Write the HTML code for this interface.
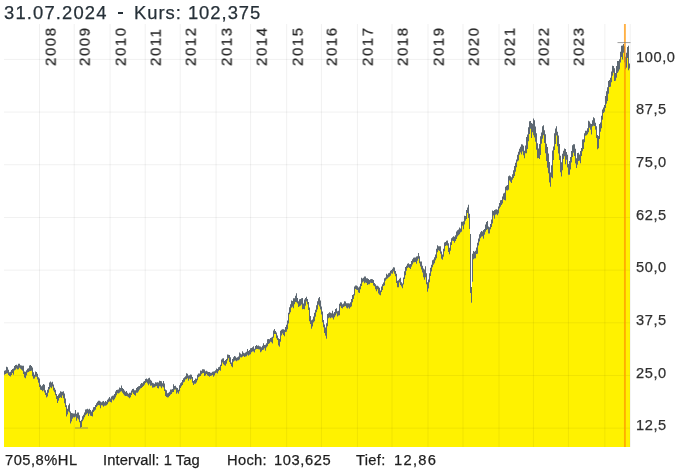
<!DOCTYPE html>
<html><head><meta charset="utf-8"><style>
html,body{margin:0;padding:0;background:#fff;}
body{width:681px;height:470px;position:relative;overflow:hidden;font-family:"Liberation Sans",sans-serif;color:#333;}
.t,.yl,.xl,.f{will-change:transform;-webkit-text-stroke:0.25px currentColor;}
.t{position:absolute;top:1px;font-size:18.4px;white-space:pre;color:#263038;line-height:24px;}
svg{position:absolute;left:0;top:0;}
.yl{position:absolute;left:635.6px;font-size:14.6px;color:#303030;letter-spacing:0.6px;line-height:20px;}
.xl{position:absolute;top:24px;width:42px;height:16px;font-size:15px;color:#262626;line-height:16px;transform-origin:0 0;transform:translate(2.6px,42px) rotate(-90deg);letter-spacing:1.55px;}
.f{position:absolute;top:450.2px;font-size:14.7px;color:#1e1e1e;white-space:pre;line-height:20px;}
</style></head><body>
<svg width="681" height="470" viewBox="0 0 681 470">
<path d="M4 447L4 374.56L5 374.56L5 373.86L6 373.86L6 373.15L7 373.15L7 373.11L8 373.11L8 374.80L9 374.80L9 375.87L10 375.87L10 376.29L11 376.29L11 374.86L12 374.86L12 372.64L13 372.64L13 374.58L14 374.58L14 370.16L15 370.16L15 369.57L16 369.57L16 368.26L17 368.26L17 369.32L18 369.32L18 368.94L19 368.94L19 367.58L20 367.58L20 368.41L21 368.41L21 369.61L22 369.61L22 370.40L23 370.40L23 373.63L24 373.63L24 377.21L25 377.21L25 377.93L26 377.93L26 375.19L27 375.19L27 372.28L28 372.28L28 371.87L29 371.87L29 371.05L30 371.05L30 370.87L31 370.87L31 370.52L32 370.52L32 375.89L33 375.89L33 378.54L34 378.54L34 378.12L35 378.12L35 376.50L36 376.50L36 376.53L37 376.53L37 379.29L38 379.29L38 382.38L39 382.38L39 386.70L40 386.70L40 389.60L41 389.60L41 389.71L42 389.71L42 391.12L43 391.12L43 390.32L44 390.32L44 392.16L45 392.16L45 394.86L46 394.86L46 397.28L47 397.28L47 396.13L48 396.13L48 392.60L49 392.60L49 389.05L50 389.05L50 386.90L51 386.90L51 387.96L52 387.96L52 386.23L53 386.23L53 390.29L54 390.29L54 392.05L55 392.05L55 394.96L56 394.96L56 398.80L57 398.80L57 402.76L58 402.76L58 400.44L59 400.44L59 397.68L60 397.68L60 396.92L61 396.92L61 397.87L62 397.87L62 395.33L63 395.33L63 397.95L64 397.95L64 403.06L65 403.06L65 406.87L66 406.87L66 416.34L67 416.34L67 414.20L68 414.20L68 411.20L69 411.20L69 412.23L70 412.23L70 423.36L71 423.36L71 421.20L72 421.20L72 418.51L73 418.51L73 416.95L74 416.95L74 417.23L75 417.23L75 416.56L76 416.56L76 420.50L77 420.50L77 417.90L78 417.90L78 419.36L79 419.36L79 422.11L80 422.11L80 427.58L81 427.58L81 426.76L82 426.76L82 421.11L83 421.11L83 419.36L84 419.36L84 416.92L85 416.92L85 415.11L86 415.11L86 414.06L87 414.06L87 412.93L88 412.93L88 415.64L89 415.64L89 413.44L90 413.44L90 415.40L91 415.40L91 415.75L92 415.75L92 416.26L93 416.26L93 411.80L94 411.80L94 410.52L95 410.52L95 409.48L96 409.48L96 406.70L97 406.70L97 405.57L98 405.57L98 404.71L99 404.71L99 405.01L100 405.01L100 407.94L101 407.94L101 404.93L102 404.93L102 405.17L103 405.17L103 406.58L104 406.58L104 405.43L105 405.43L105 405.57L106 405.57L106 405.00L107 405.00L107 404.07L108 404.07L108 402.04L109 402.04L109 401.17L110 401.17L110 401.82L111 401.82L111 402.16L112 402.16L112 399.28L113 399.28L113 400.35L114 400.35L114 398.87L115 398.87L115 397.23L116 397.23L116 395.06L117 395.06L117 393.06L118 393.06L118 393.20L119 393.20L119 392.43L120 392.43L120 391.38L121 391.38L121 390.95L122 390.95L122 392.43L123 392.43L123 394.12L124 394.12L124 395.20L125 395.20L125 395.86L126 395.86L126 395.67L127 395.67L127 396.15L128 396.15L128 397.02L129 397.02L129 398.09L130 398.09L130 396.98L131 396.98L131 394.65L132 394.65L132 392.22L133 392.22L133 393.66L134 393.66L134 394.76L135 394.76L135 395.44L136 395.44L136 392.40L137 392.40L137 392.49L138 392.49L138 391.28L139 391.28L139 389.42L140 389.42L140 388.26L141 388.26L141 387.81L142 387.81L142 386.69L143 386.69L143 385.87L144 385.87L144 384.44L145 384.44L145 382.82L146 382.82L146 381.89L147 381.89L147 383.28L148 383.28L148 384.95L149 384.95L149 383.38L150 383.38L150 385.48L151 385.48L151 385.35L152 385.35L152 387.48L153 387.48L153 387.34L154 387.34L154 386.97L155 386.97L155 386.29L156 386.29L156 385.81L157 385.81L157 387.66L158 387.66L158 388.13L159 388.13L159 385.88L160 385.88L160 386.27L161 386.27L161 388.01L162 388.01L162 386.34L163 386.34L163 387.22L164 387.22L164 390.82L165 390.82L165 395.68L166 395.68L166 396.78L167 396.78L167 397.26L168 397.26L168 396.89L169 396.89L169 395.66L170 395.66L170 394.60L171 394.60L171 393.76L172 393.76L172 392.11L173 392.11L173 391.81L174 391.81L174 389.58L175 389.58L175 389.27L176 389.27L176 393.54L177 393.54L177 392.31L178 392.31L178 393.39L179 393.39L179 391.04L180 391.04L180 387.86L181 387.86L181 386.00L182 386.00L182 384.70L183 384.70L183 382.14L184 382.14L184 381.42L185 381.42L185 379.24L186 379.24L186 379.05L187 379.05L187 378.05L188 378.05L188 380.62L189 380.62L189 378.57L190 378.57L190 379.51L191 379.51L191 378.49L192 378.49L192 382.51L193 382.51L193 384.86L194 384.86L194 383.45L195 383.45L195 383.43L196 383.43L196 382.23L197 382.23L197 379.95L198 379.95L198 377.00L199 377.00L199 376.34L200 376.34L200 375.81L201 375.81L201 374.01L202 374.01L202 372.95L203 372.95L203 372.79L204 372.79L204 375.68L205 375.68L205 375.27L206 375.27L206 373.68L207 373.68L207 375.32L208 375.32L208 375.78L209 375.78L209 376.59L210 376.59L210 375.85L211 375.85L211 375.51L212 375.51L212 374.63L213 374.63L213 376.58L214 376.58L214 375.35L215 375.35L215 373.01L216 373.01L216 372.41L217 372.41L217 373.25L218 373.25L218 370.89L219 370.89L219 369.86L220 369.86L220 370.51L221 370.51L221 365.78L222 365.78L222 362.27L223 362.27L223 364.12L224 364.12L224 364.93L225 364.93L225 365.48L226 365.48L226 363.48L227 363.48L227 360.35L228 360.35L228 357.93L229 357.93L229 361.84L230 361.84L230 363.80L231 363.80L231 365.91L232 365.91L232 367.01L233 367.01L233 361.59L234 361.59L234 360.41L235 360.41L235 360.20L236 360.20L236 361.00L237 361.00L237 360.13L238 360.13L238 360.06L239 360.06L239 359.23L240 359.23L240 357.08L241 357.08L241 357.22L242 357.22L242 356.39L243 356.39L243 355.86L244 355.86L244 356.77L245 356.77L245 356.30L246 356.30L246 355.89L247 355.89L247 354.54L248 354.54L248 355.59L249 355.59L249 354.59L250 354.59L250 354.00L251 354.00L251 352.02L252 352.02L252 351.22L253 351.22L253 351.26L254 351.26L254 352.24L255 352.24L255 349.46L256 349.46L256 348.72L257 348.72L257 348.88L258 348.88L258 349.07L259 349.07L259 349.35L260 349.35L260 352.08L261 352.08L261 351.33L262 351.33L262 349.82L263 349.82L263 349.54L264 349.54L264 347.93L265 347.93L265 350.53L266 350.53L266 347.24L267 347.24L267 345.96L268 345.96L268 343.65L269 343.65L269 342.94L270 342.94L270 341.57L271 341.57L271 342.12L272 342.12L272 343.18L273 343.18L273 337.61L274 337.61L274 333.84L275 333.84L275 333.69L276 333.69L276 337.95L277 337.95L277 339.68L278 339.68L278 345.35L279 345.35L279 346.39L280 346.39L280 341.53L281 341.53L281 335.13L282 335.13L282 333.36L283 333.36L283 334.80L284 334.80L284 336.06L285 336.06L285 331.65L286 331.65L286 331.62L287 331.62L287 328.92L288 328.92L288 323.30L289 323.30L289 314.05L290 314.05L290 312.05L291 312.05L291 307.62L292 307.62L292 306.54L293 306.54L293 308.06L294 308.06L294 304.01L295 304.01L295 301.66L296 301.66L296 302.01L297 302.01L297 303.26L298 303.26L298 306.63L299 306.63L299 305.92L300 305.92L300 305.38L301 305.38L301 304.17L302 304.17L302 309.05L303 309.05L303 308.86L304 308.86L304 308.98L305 308.98L305 305.40L306 305.40L306 301.19L307 301.19L307 303.92L308 303.92L308 309.78L309 309.78L309 320.94L310 320.94L310 323.85L311 323.85L311 328.47L312 328.47L312 326.26L313 326.26L313 322.23L314 322.23L314 320.91L315 320.91L315 316.44L316 316.44L316 312.06L317 312.06L317 309.16L318 309.16L318 304.41L319 304.41L319 306.25L320 306.25L320 309.27L321 309.27L321 314.34L322 314.34L322 321.92L323 321.92L323 327.03L324 327.03L324 332.82L325 332.82L325 335.55L326 335.55L326 338.42L327 338.42L327 325.93L328 325.93L328 317.95L329 317.95L329 317.16L330 317.16L330 317.94L331 317.94L331 317.22L332 317.22L332 317.48L333 317.48L333 319.15L334 319.15L334 317.01L335 317.01L335 315.36L336 315.36L336 313.27L337 313.27L337 316.23L338 316.23L338 315.14L339 315.14L339 314.97L340 314.97L340 306.07L341 306.07L341 307.72L342 307.72L342 308.14L343 308.14L343 306.74L344 306.74L344 306.27L345 306.27L345 305.79L346 305.79L346 307.42L347 307.42L347 308.19L348 308.19L348 307.15L349 307.15L349 308.50L350 308.50L350 307.04L351 307.04L351 306.22L352 306.22L352 301.89L353 301.89L353 298.87L354 298.87L354 295.29L355 295.29L355 288.83L356 288.83L356 289.40L357 289.40L357 289.82L358 289.82L358 292.26L359 292.26L359 292.68L360 292.68L360 288.91L361 288.91L361 285.71L362 285.71L362 282.22L363 282.22L363 281.14L364 281.14L364 282.99L365 282.99L365 282.19L366 282.19L366 282.75L367 282.75L367 284.80L368 284.80L368 284.06L369 284.06L369 284.03L370 284.03L370 282.53L371 282.53L371 282.86L372 282.86L372 282.68L373 282.68L373 285.23L374 285.23L374 286.11L375 286.11L375 289.10L376 289.10L376 290.94L377 290.94L377 288.94L378 288.94L378 293.21L379 293.21L379 294.62L380 294.62L380 294.97L381 294.97L381 291.87L382 291.87L382 289.68L383 289.68L383 285.80L384 285.80L384 285.38L385 285.38L385 280.52L386 280.52L386 279.11L387 279.11L387 278.23L388 278.23L388 277.22L389 277.22L389 276.51L390 276.51L390 275.46L391 275.46L391 273.35L392 273.35L392 273.48L393 273.48L393 271.24L394 271.24L394 273.44L395 273.44L395 275.93L396 275.93L396 282.85L397 282.85L397 286.92L398 286.92L398 287.05L399 287.05L399 282.29L400 282.29L400 284.70L401 284.70L401 286.15L402 286.15L402 287.97L403 287.97L403 284.29L404 284.29L404 278.72L405 278.72L405 274.88L406 274.88L406 270.51L407 270.51L407 267.68L408 267.68L408 266.89L409 266.89L409 267.86L410 267.86L410 268.79L411 268.79L411 266.63L412 266.63L412 264.31L413 264.31L413 262.37L414 262.37L414 262.09L415 262.09L415 261.71L416 261.71L416 263.57L417 263.57L417 260.48L418 260.48L418 258.40L419 258.40L419 263.07L420 263.07L420 266.26L421 266.26L421 269.25L422 269.25L422 272.29L423 272.29L423 276.99L424 276.99L424 279.59L425 279.59L425 276.97L426 276.97L426 284.04L427 284.04L427 291.52L428 291.52L428 288.22L429 288.22L429 282.03L430 282.03L430 275.65L431 275.65L431 271.24L432 271.24L432 266.91L433 266.91L433 264.47L434 264.47L434 262.93L435 262.93L435 259.93L436 259.93L436 257.99L437 257.99L437 251.89L438 251.89L438 249.92L439 249.92L439 250.84L440 250.84L440 253.60L441 253.60L441 258.39L442 258.39L442 259.62L443 259.62L443 256.55L444 256.55L444 250.99L445 250.99L445 245.64L446 245.64L446 244.89L447 244.89L447 245.53L448 245.53L448 251.64L449 251.64L449 253.89L450 253.89L450 250.60L451 250.60L451 244.67L452 244.67L452 240.59L453 240.59L453 240.75L454 240.75L454 242.54L455 242.54L455 240.68L456 240.68L456 238.83L457 238.83L457 236.36L458 236.36L458 234.89L459 234.89L459 233.87L460 233.87L460 232.21L461 232.21L461 231.53L462 231.53L462 225.57L463 225.57L463 229.08L464 229.08L464 224.27L465 224.27L465 220.60L466 220.60L466 218.87L467 218.87L467 212.72L468 212.72L468 217.66L469 217.66L469 228.63L470 228.63L470 292.71L471 292.71L471 302.62L472 302.62L472 281.55L473 281.55L473 259.07L474 259.07L474 258.31L475 258.31L475 258.01L476 258.01L476 253.65L477 253.65L477 253.50L478 253.50L478 245.31L479 245.31L479 241.20L480 241.20L480 238.03L481 238.03L481 236.48L482 236.48L482 236.07L483 236.07L483 238.39L484 238.39L484 234.51L485 234.51L485 231.55L486 231.55L486 229.87L487 229.87L487 229.07L488 229.07L488 233.20L489 233.20L489 233.23L490 233.23L490 229.02L491 229.02L491 226.65L492 226.65L492 223.31L493 223.31L493 215.16L494 215.16L494 218.49L495 218.49L495 214.51L496 214.51L496 214.06L497 214.06L497 215.09L498 215.09L498 213.28L499 213.28L499 208.23L500 208.23L500 206.61L501 206.61L501 204.86L502 204.86L502 203.31L503 203.31L503 199.15L504 199.15L504 199.83L505 199.83L505 200.32L506 200.32L506 190.05L507 190.05L507 190.37L508 190.37L508 189.59L509 189.59L509 180.16L510 180.16L510 181.57L511 181.57L511 182.79L512 182.79L512 179.48L513 179.48L513 177.77L514 177.77L514 175.68L515 175.68L515 171.58L516 171.58L516 166.88L517 166.88L517 161.20L518 161.20L518 160.37L519 160.37L519 154.55L520 154.55L520 152.19L521 152.19L521 154.18L522 154.18L522 151.32L523 151.32L523 154.96L524 154.96L524 157.88L525 157.88L525 153.03L526 153.03L526 152.90L527 152.90L527 148.76L528 148.76L528 141.12L529 141.12L529 133.67L530 133.67L530 128.53L531 128.53L531 137.68L532 137.68L532 131.90L533 131.90L533 135.07L534 135.07L534 137.28L535 137.28L535 141.45L536 141.45L536 149.38L537 149.38L537 157.87L538 157.87L538 157.77L539 157.77L539 158.68L540 158.68L540 154.82L541 154.82L541 143.40L542 143.40L542 138.49L543 138.49L543 134.94L544 134.94L544 142.69L545 142.69L545 153.03L546 153.03L546 160.68L547 160.68L547 167.56L548 167.56L548 172.93L549 172.93L549 182.18L550 182.18L550 186.47L551 186.47L551 177.04L552 177.04L552 178.01L553 178.01L553 159.79L554 159.79L554 149.79L555 149.79L555 143.85L556 143.85L556 135.17L557 135.17L557 145.96L558 145.96L558 153.15L559 153.15L559 159.67L560 159.67L560 171.95L561 171.95L561 176.17L562 176.17L562 170.06L563 170.06L563 158.74L564 158.74L564 155.90L565 155.90L565 164.00L566 164.00L566 159.45L567 159.45L567 167.32L568 167.32L568 174.43L569 174.43L569 174.49L570 174.49L570 169.35L571 169.35L571 162.27L572 162.27L572 156.85L573 156.85L573 152.41L574 152.41L574 155.81L575 155.81L575 163.29L576 163.29L576 167.73L577 167.73L577 164.58L578 164.58L578 160.75L579 160.75L579 160.61L580 160.61L580 162.94L581 162.94L581 155.81L582 155.81L582 151.00L583 151.00L583 148.73L584 148.73L584 142.09L585 142.09L585 135.53L586 135.53L586 134.97L587 134.97L587 134.03L588 134.03L588 132.10L589 132.10L589 127.55L590 127.55L590 129.40L591 129.40L591 134.18L592 134.18L592 126.30L593 126.30L593 125.48L594 125.48L594 125.72L595 125.72L595 129.56L596 129.56L596 137.82L597 137.82L597 149.02L598 149.02L598 148.05L599 148.05L599 138.80L600 138.80L600 131.48L601 131.48L601 128.11L602 128.11L602 119.41L603 119.41L603 112.85L604 112.85L604 111.55L605 111.55L605 107.73L606 107.73L606 103.57L607 103.57L607 100.79L608 100.79L608 93.53L609 93.53L609 86.79L610 86.79L610 86.58L611 86.58L611 82.12L612 82.12L612 75.43L613 75.43L613 72.52L614 72.52L614 80.80L615 80.80L615 80.59L616 80.59L616 77.62L617 77.62L617 72.84L618 72.84L618 71.13L619 71.13L619 69.17L620 69.17L620 62.23L621 62.23L621 56.81L622 56.81L622 59.22L623 59.22L623 52.41L624 52.41L624 62.19L625 62.19L625 69.11L626 69.11L626 67.53L627 67.53L627 57.76L628 57.76L628 70.00L629 70.00L629 68.36L630 68.36L630 447Z" fill="#fff200"/>
<path d="M39.50 24V447M74.20 24V447M110.10 24V447M145.20 24V447M180.20 24V447M216.10 24V447M250.60 24V447M286.70 24V447M321.40 24V447M357.40 24V447M392.00 24V447M428.00 24V447M463.00 24V447M499.00 24V447M533.40 24V447M568.40 24V447M604.90 24V447M630.2 24V447M4 59.40H630M4 112.08H630M4 164.76H630M4 217.44H630M4 270.12H630M4 322.80H630M4 375.48H630M4 428.16H630" fill="none" stroke="rgba(0,0,0,0.06)" stroke-width="1"/>
<path d="M4 370.83h1v3.98h-1zM5 370.25h1v3.86h-1zM6 366.80h1v6.59h-1zM7 367.29h1v6.07h-1zM8 369.73h1v5.32h-1zM9 372.18h1v3.94h-1zM10 371.86h1v4.68h-1zM11 369.91h1v5.20h-1zM12 368.99h1v3.90h-1zM13 368.51h1v6.31h-1zM14 365.96h1v4.45h-1zM15 364.96h1v4.86h-1zM16 364.64h1v3.87h-1zM17 365.58h1v3.99h-1zM18 363.80h1v5.39h-1zM19 363.87h1v3.96h-1zM20 365.37h1v3.30h-1zM21 365.60h1v4.25h-1zM22 365.66h1v5.00h-1zM23 365.82h1v8.06h-1zM24 371.55h1v5.90h-1zM25 371.77h1v6.41h-1zM26 370.33h1v5.11h-1zM27 368.70h1v3.82h-1zM28 368.37h1v3.75h-1zM29 365.46h1v5.83h-1zM30 365.11h1v6.01h-1zM31 365.90h1v4.88h-1zM32 367.59h1v8.55h-1zM33 372.33h1v6.47h-1zM34 374.77h1v3.61h-1zM35 371.56h1v5.20h-1zM36 372.12h1v4.66h-1zM37 373.86h1v5.68h-1zM38 377.19h1v5.44h-1zM39 378.49h1v8.46h-1zM40 384.82h1v5.03h-1zM41 386.29h1v3.67h-1zM42 385.20h1v6.17h-1zM43 383.97h1v6.61h-1zM44 384.71h1v7.70h-1zM45 390.22h1v4.89h-1zM46 392.86h1v4.66h-1zM47 389.80h1v6.58h-1zM48 386.90h1v5.95h-1zM49 382.61h1v6.69h-1zM50 381.55h1v5.60h-1zM51 382.52h1v5.69h-1zM52 381.75h1v4.73h-1zM53 384.61h1v5.93h-1zM54 387.72h1v4.58h-1zM55 389.77h1v5.43h-1zM56 394.02h1v5.03h-1zM57 396.12h1v6.89h-1zM58 394.56h1v6.14h-1zM59 393.32h1v4.61h-1zM60 391.33h1v5.84h-1zM61 391.72h1v6.40h-1zM62 391.66h1v3.92h-1zM63 391.22h1v6.98h-1zM64 393.60h1v9.72h-1zM65 398.45h1v8.67h-1zM66 405.29h1v11.31h-1zM67 408.81h1v5.64h-1zM68 405.16h1v6.30h-1zM69 403.60h1v8.88h-1zM70 411.47h1v12.14h-1zM71 413.07h1v8.38h-1zM72 413.14h1v5.62h-1zM73 413.46h1v3.74h-1zM74 413.40h1v4.08h-1zM75 409.92h1v6.89h-1zM76 413.78h1v6.97h-1zM77 412.56h1v5.59h-1zM78 412.47h1v7.14h-1zM79 415.34h1v7.02h-1zM80 420.89h1v6.94h-1zM81 419.73h1v7.29h-1zM82 416.16h1v5.20h-1zM83 414.81h1v4.80h-1zM84 412.60h1v4.57h-1zM85 409.55h1v5.82h-1zM86 409.36h1v4.94h-1zM87 408.85h1v4.33h-1zM88 409.52h1v6.37h-1zM89 408.78h1v4.92h-1zM90 409.88h1v5.77h-1zM91 411.41h1v4.59h-1zM92 409.85h1v6.66h-1zM93 407.27h1v4.78h-1zM94 407.01h1v3.76h-1zM95 404.92h1v4.81h-1zM96 403.13h1v3.82h-1zM97 401.72h1v4.10h-1zM98 400.66h1v4.30h-1zM99 400.85h1v4.41h-1zM100 401.39h1v6.80h-1zM101 402.19h1v2.99h-1zM102 401.59h1v3.83h-1zM103 401.04h1v5.78h-1zM104 402.26h1v3.41h-1zM105 400.89h1v4.93h-1zM106 401.75h1v3.50h-1zM107 399.70h1v4.62h-1zM108 398.50h1v3.79h-1zM109 397.08h1v4.34h-1zM110 398.53h1v3.54h-1zM111 396.43h1v5.97h-1zM112 395.72h1v3.80h-1zM113 395.56h1v5.04h-1zM114 393.97h1v5.16h-1zM115 391.48h1v5.99h-1zM116 390.02h1v5.30h-1zM117 389.68h1v3.63h-1zM118 389.47h1v3.98h-1zM119 387.53h1v5.15h-1zM120 387.97h1v3.66h-1zM121 385.50h1v5.69h-1zM122 388.05h1v4.63h-1zM123 388.92h1v5.45h-1zM124 390.49h1v4.96h-1zM125 391.64h1v4.48h-1zM126 391.03h1v4.89h-1zM127 392.65h1v3.75h-1zM128 393.83h1v3.45h-1zM129 392.84h1v5.50h-1zM130 392.82h1v4.41h-1zM131 390.51h1v4.39h-1zM132 388.92h1v3.55h-1zM133 388.66h1v5.25h-1zM134 390.28h1v4.72h-1zM135 390.33h1v5.36h-1zM136 388.06h1v4.59h-1zM137 387.08h1v5.66h-1zM138 386.27h1v5.27h-1zM139 385.91h1v3.76h-1zM140 384.34h1v4.17h-1zM141 383.08h1v4.97h-1zM142 383.26h1v3.68h-1zM143 381.64h1v4.48h-1zM144 380.94h1v3.75h-1zM145 379.02h1v4.04h-1zM146 378.56h1v3.57h-1zM147 379.32h1v4.20h-1zM148 378.37h1v6.83h-1zM149 377.83h1v5.80h-1zM150 379.71h1v6.02h-1zM151 380.70h1v4.89h-1zM152 382.68h1v5.05h-1zM153 383.22h1v4.37h-1zM154 383.70h1v3.52h-1zM155 382.14h1v4.39h-1zM156 382.62h1v3.44h-1zM157 382.30h1v5.61h-1zM158 382.55h1v5.83h-1zM159 380.84h1v5.29h-1zM160 381.03h1v5.49h-1zM161 381.32h1v6.95h-1zM162 383.21h1v3.38h-1zM163 381.06h1v6.41h-1zM164 383.47h1v7.60h-1zM165 389.62h1v6.31h-1zM166 390.34h1v6.69h-1zM167 393.37h1v4.13h-1zM168 392.72h1v4.42h-1zM169 391.83h1v4.08h-1zM170 389.46h1v5.38h-1zM171 389.50h1v4.51h-1zM172 388.96h1v3.41h-1zM173 384.34h1v7.72h-1zM174 386.03h1v3.80h-1zM175 385.83h1v3.70h-1zM176 387.49h1v6.30h-1zM177 387.89h1v4.67h-1zM178 389.64h1v4.00h-1zM179 385.16h1v6.13h-1zM180 383.28h1v4.82h-1zM181 382.16h1v4.09h-1zM182 379.88h1v5.07h-1zM183 378.17h1v4.22h-1zM184 377.18h1v4.48h-1zM185 376.30h1v3.19h-1zM186 373.28h1v6.02h-1zM187 373.75h1v4.55h-1zM188 375.56h1v5.31h-1zM189 375.26h1v3.56h-1zM190 374.59h1v5.16h-1zM191 374.82h1v3.91h-1zM192 376.89h1v5.88h-1zM193 381.08h1v4.03h-1zM194 380.04h1v3.67h-1zM195 378.58h1v5.10h-1zM196 378.81h1v3.66h-1zM197 374.71h1v5.49h-1zM198 373.47h1v3.78h-1zM199 373.50h1v3.09h-1zM200 370.58h1v5.49h-1zM201 370.69h1v3.56h-1zM202 369.13h1v4.07h-1zM203 369.29h1v3.75h-1zM204 369.42h1v6.51h-1zM205 371.28h1v4.25h-1zM206 370.85h1v3.08h-1zM207 371.61h1v3.95h-1zM208 371.97h1v4.06h-1zM209 372.12h1v4.72h-1zM210 372.69h1v3.42h-1zM211 372.77h1v2.98h-1zM212 371.71h1v3.17h-1zM213 371.56h1v5.28h-1zM214 371.30h1v4.30h-1zM215 370.28h1v2.98h-1zM216 368.58h1v4.08h-1zM217 368.89h1v4.61h-1zM218 367.27h1v3.87h-1zM219 366.75h1v3.36h-1zM220 364.76h1v5.99h-1zM221 359.62h1v6.41h-1zM222 358.45h1v4.07h-1zM223 358.26h1v6.11h-1zM224 360.92h1v4.27h-1zM225 360.02h1v5.71h-1zM226 359.06h1v4.67h-1zM227 354.52h1v6.08h-1zM228 354.68h1v3.50h-1zM229 355.05h1v7.04h-1zM230 357.25h1v6.80h-1zM231 362.53h1v3.63h-1zM232 359.06h1v8.20h-1zM233 357.32h1v4.52h-1zM234 356.12h1v4.54h-1zM235 356.54h1v3.92h-1zM236 357.73h1v3.52h-1zM237 357.36h1v3.02h-1zM238 356.39h1v3.92h-1zM239 352.42h1v7.06h-1zM240 353.40h1v3.93h-1zM241 354.25h1v3.22h-1zM242 351.33h1v5.31h-1zM243 352.68h1v3.43h-1zM244 353.35h1v3.67h-1zM245 352.60h1v3.95h-1zM246 351.70h1v4.44h-1zM247 349.09h1v5.70h-1zM248 350.99h1v4.86h-1zM249 350.06h1v4.78h-1zM250 348.27h1v5.98h-1zM251 348.06h1v4.21h-1zM252 347.25h1v4.21h-1zM253 346.27h1v5.24h-1zM254 348.68h1v3.80h-1zM255 345.88h1v3.83h-1zM256 345.01h1v3.96h-1zM257 345.83h1v3.29h-1zM258 345.41h1v3.92h-1zM259 346.16h1v3.44h-1zM260 346.47h1v5.86h-1zM261 347.18h1v4.41h-1zM262 345.77h1v4.30h-1zM263 343.36h1v6.43h-1zM264 345.05h1v3.14h-1zM265 344.75h1v6.02h-1zM266 343.35h1v4.14h-1zM267 339.13h1v7.08h-1zM268 339.06h1v4.84h-1zM269 339.17h1v4.02h-1zM270 338.01h1v3.81h-1zM271 337.55h1v4.82h-1zM272 336.68h1v6.74h-1zM273 330.52h1v7.34h-1zM274 329.02h1v5.07h-1zM275 330.91h1v3.03h-1zM276 332.58h1v5.62h-1zM277 335.40h1v4.53h-1zM278 338.23h1v7.37h-1zM279 338.91h1v7.73h-1zM280 330.65h1v11.13h-1zM281 329.75h1v5.63h-1zM282 329.23h1v4.38h-1zM283 329.25h1v5.80h-1zM284 329.66h1v6.65h-1zM285 326.93h1v4.97h-1zM286 324.77h1v7.10h-1zM287 320.43h1v8.74h-1zM288 312.77h1v10.77h-1zM289 307.23h1v7.07h-1zM290 304.18h1v8.12h-1zM291 300.40h1v7.47h-1zM292 300.93h1v5.86h-1zM293 298.26h1v10.05h-1zM294 298.30h1v5.96h-1zM295 295.78h1v6.13h-1zM296 293.13h1v9.13h-1zM297 298.03h1v5.48h-1zM298 301.22h1v5.66h-1zM299 299.22h1v6.94h-1zM300 299.04h1v6.59h-1zM301 298.29h1v6.13h-1zM302 298.01h1v11.29h-1zM303 303.50h1v5.62h-1zM304 299.59h1v9.63h-1zM305 298.10h1v7.54h-1zM306 296.75h1v4.69h-1zM307 299.03h1v5.14h-1zM308 301.93h1v8.10h-1zM309 307.50h1v13.69h-1zM310 315.92h1v8.18h-1zM311 320.32h1v8.40h-1zM312 319.40h1v7.11h-1zM313 316.40h1v6.08h-1zM314 312.76h1v8.40h-1zM315 309.73h1v6.96h-1zM316 305.36h1v6.94h-1zM317 301.14h1v8.28h-1zM318 298.18h1v6.48h-1zM319 297.03h1v9.47h-1zM320 300.48h1v9.04h-1zM321 306.41h1v8.18h-1zM322 311.53h1v10.64h-1zM323 320.11h1v7.18h-1zM324 324.61h1v8.47h-1zM325 327.56h1v8.25h-1zM326 323.33h1v15.34h-1zM327 314.06h1v12.12h-1zM328 313.27h1v4.93h-1zM329 312.35h1v5.06h-1zM330 312.77h1v5.42h-1zM331 313.27h1v4.20h-1zM332 310.80h1v6.92h-1zM333 313.58h1v5.82h-1zM334 311.96h1v5.30h-1zM335 308.96h1v6.64h-1zM336 308.14h1v5.38h-1zM337 311.29h1v5.18h-1zM338 310.67h1v4.72h-1zM339 303.65h1v11.57h-1zM340 302.20h1v4.11h-1zM341 302.47h1v5.50h-1zM342 304.15h1v4.24h-1zM343 303.39h1v3.60h-1zM344 301.14h1v5.38h-1zM345 301.51h1v4.53h-1zM346 303.14h1v4.53h-1zM347 303.37h1v5.07h-1zM348 303.13h1v4.27h-1zM349 303.42h1v5.33h-1zM350 302.30h1v4.99h-1zM351 299.00h1v7.47h-1zM352 295.05h1v7.09h-1zM353 294.24h1v4.88h-1zM354 286.51h1v9.03h-1zM355 285.61h1v3.46h-1zM356 285.42h1v4.23h-1zM357 286.26h1v3.81h-1zM358 287.45h1v5.06h-1zM359 286.62h1v6.31h-1zM360 283.80h1v5.36h-1zM361 277.82h1v8.14h-1zM362 278.54h1v3.93h-1zM363 277.66h1v3.74h-1zM364 276.41h1v6.83h-1zM365 276.53h1v5.90h-1zM366 278.27h1v4.73h-1zM367 278.15h1v6.90h-1zM368 279.05h1v5.26h-1zM369 279.96h1v4.32h-1zM370 279.36h1v3.42h-1zM371 278.97h1v4.14h-1zM372 279.14h1v3.78h-1zM373 280.08h1v5.40h-1zM374 283.08h1v3.28h-1zM375 284.26h1v5.09h-1zM376 285.72h1v5.48h-1zM377 285.76h1v3.43h-1zM378 286.58h1v6.88h-1zM379 287.66h1v7.20h-1zM380 290.60h1v4.62h-1zM381 286.52h1v5.60h-1zM382 284.21h1v5.72h-1zM383 282.56h1v3.49h-1zM384 278.34h1v7.28h-1zM385 277.39h1v3.39h-1zM386 273.77h1v5.59h-1zM387 274.66h1v3.82h-1zM388 273.28h1v4.18h-1zM389 272.85h1v3.90h-1zM390 270.77h1v4.94h-1zM391 269.91h1v3.70h-1zM392 268.85h1v4.88h-1zM393 267.29h1v4.19h-1zM394 267.53h1v6.17h-1zM395 271.04h1v5.14h-1zM396 273.83h1v9.28h-1zM397 280.67h1v6.51h-1zM398 280.19h1v7.11h-1zM399 278.82h1v3.72h-1zM400 277.87h1v7.08h-1zM401 282.15h1v4.25h-1zM402 283.50h1v4.72h-1zM403 277.41h1v7.13h-1zM404 271.33h1v7.64h-1zM405 267.00h1v8.13h-1zM406 265.73h1v5.03h-1zM407 263.81h1v4.11h-1zM408 263.36h1v3.78h-1zM409 264.24h1v3.87h-1zM410 264.08h1v4.96h-1zM411 261.12h1v5.75h-1zM412 259.20h1v5.36h-1zM413 257.84h1v4.77h-1zM414 257.57h1v4.77h-1zM415 257.55h1v4.41h-1zM416 256.45h1v7.36h-1zM417 256.17h1v4.56h-1zM418 252.91h1v5.75h-1zM419 256.36h1v6.96h-1zM420 261.53h1v4.98h-1zM421 261.40h1v8.10h-1zM422 265.71h1v6.84h-1zM423 268.44h1v8.80h-1zM424 269.52h1v10.32h-1zM425 266.35h1v10.87h-1zM426 273.19h1v11.10h-1zM427 282.27h1v9.50h-1zM428 279.58h1v8.90h-1zM429 273.24h1v9.05h-1zM430 267.78h1v8.12h-1zM431 264.87h1v6.62h-1zM432 260.36h1v6.80h-1zM433 259.60h1v5.13h-1zM434 257.25h1v5.94h-1zM435 254.48h1v5.70h-1zM436 248.69h1v9.54h-1zM437 245.16h1v6.98h-1zM438 246.14h1v4.03h-1zM439 246.30h1v4.80h-1zM440 246.35h1v7.50h-1zM441 251.62h1v7.02h-1zM442 254.47h1v5.40h-1zM443 248.80h1v8.00h-1zM444 242.48h1v8.76h-1zM445 242.01h1v3.88h-1zM446 240.85h1v4.29h-1zM447 240.40h1v5.38h-1zM448 243.33h1v8.55h-1zM449 247.84h1v6.30h-1zM450 242.26h1v8.59h-1zM451 238.15h1v6.77h-1zM452 237.15h1v3.69h-1zM453 236.23h1v4.77h-1zM454 236.72h1v6.06h-1zM455 235.26h1v5.67h-1zM456 231.45h1v7.63h-1zM457 230.26h1v6.36h-1zM458 229.51h1v5.63h-1zM459 227.54h1v6.59h-1zM460 228.38h1v4.08h-1zM461 221.81h1v9.97h-1zM462 221.82h1v4.00h-1zM463 221.26h1v8.07h-1zM464 215.65h1v8.88h-1zM465 215.93h1v4.92h-1zM466 210.11h1v9.01h-1zM467 207.56h1v5.41h-1zM468 204.87h1v13.04h-1zM469 213.84h1v15.04h-1zM470 234.02h1v58.95h-1zM471 287.09h1v15.78h-1zM472 253.71h1v28.09h-1zM473 250.92h1v8.39h-1zM474 251.70h1v6.85h-1zM475 250.80h1v7.46h-1zM476 247.45h1v6.45h-1zM477 242.71h1v11.05h-1zM478 238.58h1v6.98h-1zM479 234.13h1v7.32h-1zM480 232.18h1v6.10h-1zM481 230.89h1v5.85h-1zM482 231.39h1v4.93h-1zM483 230.01h1v8.63h-1zM484 228.88h1v5.87h-1zM485 224.41h1v7.40h-1zM486 221.93h1v8.19h-1zM487 221.04h1v8.28h-1zM488 226.44h1v7.01h-1zM489 227.17h1v6.31h-1zM490 224.06h1v5.21h-1zM491 219.58h1v7.32h-1zM492 210.53h1v13.02h-1zM493 210.97h1v4.44h-1zM494 209.92h1v8.82h-1zM495 209.61h1v5.15h-1zM496 209.32h1v5.00h-1zM497 209.83h1v5.51h-1zM498 206.50h1v7.03h-1zM499 203.11h1v5.36h-1zM500 200.18h1v6.68h-1zM501 200.04h1v5.08h-1zM502 196.61h1v6.95h-1zM503 193.40h1v6.00h-1zM504 192.79h1v7.29h-1zM505 186.69h1v13.87h-1zM506 185.86h1v4.44h-1zM507 185.05h1v5.57h-1zM508 176.15h1v13.69h-1zM509 175.47h1v4.94h-1zM510 176.32h1v5.50h-1zM511 177.25h1v5.79h-1zM512 174.29h1v5.44h-1zM513 170.19h1v7.83h-1zM514 165.94h1v9.99h-1zM515 162.64h1v9.19h-1zM516 159.42h1v7.71h-1zM517 154.68h1v6.77h-1zM518 151.70h1v8.91h-1zM519 148.65h1v6.15h-1zM520 146.69h1v5.75h-1zM521 144.27h1v10.16h-1zM522 144.48h1v7.09h-1zM523 145.85h1v9.36h-1zM524 150.78h1v7.36h-1zM525 145.54h1v7.74h-1zM526 136.95h1v16.20h-1zM527 134.53h1v14.48h-1zM528 127.31h1v14.06h-1zM529 121.28h1v12.64h-1zM530 120.98h1v7.80h-1zM531 122.89h1v15.05h-1zM532 123.63h1v8.52h-1zM533 118.51h1v16.81h-1zM534 120.23h1v17.30h-1zM535 126.57h1v15.13h-1zM536 133.18h1v16.45h-1zM537 143.32h1v14.81h-1zM538 148.62h1v9.40h-1zM539 144.08h1v14.85h-1zM540 136.19h1v18.88h-1zM541 132.38h1v11.27h-1zM542 126.13h1v12.61h-1zM543 125.32h1v9.87h-1zM544 130.22h1v12.73h-1zM545 134.24h1v19.04h-1zM546 143.78h1v17.14h-1zM547 147.01h1v20.80h-1zM548 153.49h1v19.69h-1zM549 161.91h1v20.52h-1zM550 172.42h1v14.31h-1zM551 165.26h1v12.03h-1zM552 150.58h1v27.67h-1zM553 146.39h1v13.65h-1zM554 133.21h1v16.83h-1zM555 128.51h1v15.59h-1zM556 126.37h1v9.06h-1zM557 131.83h1v14.38h-1zM558 135.55h1v17.85h-1zM559 143.93h1v15.99h-1zM560 155.79h1v16.40h-1zM561 162.27h1v14.15h-1zM562 153.65h1v16.67h-1zM563 150.81h1v8.18h-1zM564 148.39h1v7.76h-1zM565 149.04h1v15.21h-1zM566 151.88h1v7.82h-1zM567 154.75h1v12.82h-1zM568 163.97h1v10.71h-1zM569 160.88h1v13.85h-1zM570 157.03h1v12.57h-1zM571 151.04h1v11.48h-1zM572 145.31h1v11.79h-1zM573 144.30h1v8.36h-1zM574 144.29h1v11.77h-1zM575 148.75h1v14.79h-1zM576 158.31h1v9.67h-1zM577 152.93h1v11.90h-1zM578 152.77h1v8.23h-1zM579 154.43h1v6.44h-1zM580 151.07h1v12.13h-1zM581 148.11h1v7.95h-1zM582 139.42h1v11.82h-1zM583 139.31h1v9.67h-1zM584 133.15h1v9.19h-1zM585 130.65h1v5.13h-1zM586 130.67h1v4.56h-1zM587 128.27h1v6.01h-1zM588 120.86h1v11.50h-1zM589 121.39h1v6.40h-1zM590 123.60h1v6.05h-1zM591 124.05h1v10.39h-1zM592 120.31h1v6.23h-1zM593 117.37h1v8.36h-1zM594 118.36h1v7.60h-1zM595 122.81h1v7.00h-1zM596 126.25h1v11.82h-1zM597 134.90h1v14.37h-1zM598 136.02h1v12.28h-1zM599 124.12h1v14.93h-1zM600 122.60h1v9.12h-1zM601 115.79h1v12.57h-1zM602 109.38h1v10.28h-1zM603 107.53h1v5.57h-1zM604 104.97h1v6.83h-1zM605 95.89h1v12.10h-1zM606 91.19h1v12.63h-1zM607 87.14h1v13.91h-1zM608 80.89h1v12.89h-1zM609 79.91h1v7.13h-1zM610 77.70h1v9.12h-1zM611 71.51h1v10.86h-1zM612 65.86h1v9.82h-1zM613 66.03h1v6.75h-1zM614 68.33h1v12.72h-1zM615 72.90h1v7.94h-1zM616 65.94h1v11.93h-1zM617 61.05h1v12.04h-1zM618 61.07h1v10.31h-1zM619 59.17h1v10.25h-1zM620 51.76h1v10.72h-1zM621 45.72h1v11.34h-1zM622 45.43h1v14.03h-1zM623 43.95h1v8.72h-1zM624 46.27h1v16.17h-1zM625 56.80h1v12.56h-1zM626 52.64h1v15.14h-1zM627 47.08h1v10.93h-1zM628 45.78h1v24.47h-1zM629 63.57h1v5.03h-1z" fill="#5d6872"/>
<path d="M624.9 24V447" stroke="#ff9400" stroke-width="1.9" opacity="0.72"/>
<path d="M617.5 42.6H630.5" stroke="#777" stroke-width="1" opacity="0.7"/>
<path d="M75 428H88" stroke="#777" stroke-width="1" opacity="0.7"/>
</svg>
<div class="t" style="left:4px;letter-spacing:1.15px">31.07.2024</div>
<div style="position:absolute;left:117.5px;top:12.4px;width:5.4px;height:1.6px;background:#263038"></div>
<div class="t" style="left:134.2px;letter-spacing:0.98px">Kurs: 102,375</div>
<div class="yl" style="top:46.5px">100,0</div><div class="yl" style="top:99.2px">87,5</div><div class="yl" style="top:151.8px">75,0</div><div class="yl" style="top:204.6px">62,5</div><div class="yl" style="top:257.2px">50,0</div><div class="yl" style="top:309.9px">37,5</div><div class="yl" style="top:362.7px">25,0</div><div class="yl" style="top:415.4px">12,5</div>
<div class="xl" style="left:39.5px">2008</div><div class="xl" style="left:74.2px">2009</div><div class="xl" style="left:110.1px">2010</div><div class="xl" style="left:145.2px">2011</div><div class="xl" style="left:180.2px">2012</div><div class="xl" style="left:216.1px">2013</div><div class="xl" style="left:250.6px">2014</div><div class="xl" style="left:286.7px">2015</div><div class="xl" style="left:321.4px">2016</div><div class="xl" style="left:357.4px">2017</div><div class="xl" style="left:392.0px">2018</div><div class="xl" style="left:428.0px">2019</div><div class="xl" style="left:463.0px">2020</div><div class="xl" style="left:499.0px">2021</div><div class="xl" style="left:533.4px">2022</div><div class="xl" style="left:568.4px">2023</div>
<div class="f" style="left:4.5px;letter-spacing:0.5px">705,8%HL</div>
<div class="f" style="left:103px;letter-spacing:0.1px">Intervall: 1 Tag</div>
<div class="f" style="left:227px;letter-spacing:0.3px">Hoch:</div>
<div class="f" style="left:273.5px;letter-spacing:0.6px">103,625</div>
<div class="f" style="left:356px;letter-spacing:0.3px">Tief:</div>
<div class="f" style="left:394px;letter-spacing:1.3px">12,86</div>
</body></html>
